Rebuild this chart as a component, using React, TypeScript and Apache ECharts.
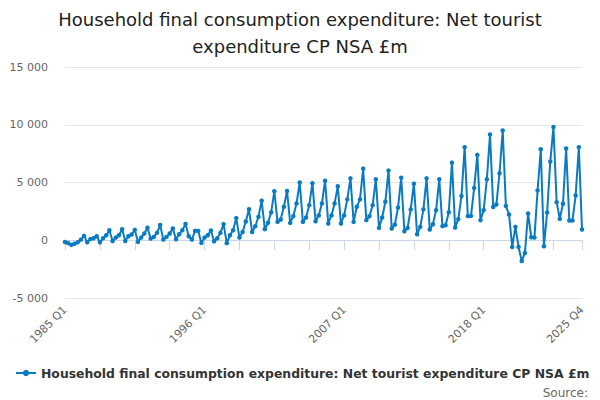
import React, { useEffect, useRef } from "react";
import * as echarts from "echarts";

const startYear = 1985;
const quarterNames = ["Q1", "Q2", "Q3", "Q4"];

// Quarterly values, 1985 Q1 .. 2025 Q4 (£m)
const values1985to1994 = [
  -150, -250, -400, -300,
  -180, 50, 380, -170,
  100, 170, 350, -170,
  170, 430, 870, -60,
  230, 430, 950, -60,
  350, 500, 900, -140,
  230, 580, 1080, 140,
  290, 640, 1320, 60,
  290, 580, 1020, 90,
  520, 870, 1420, 350,
];
const values1995to2004 = [
  60, 810, 810, -230,
  230, 430, 840, -90,
  170, 640, 1400, -250,
  430, 870, 1920, 230,
  720, 1620, 2680, 720,
  1220, 2030, 3430, 960,
  1510, 2410, 4250, 1590,
  1800, 2900, 4270, 1500,
  2090, 3190, 5000, 1590,
  1970, 3040, 4930, 1650,
];
const values2005to2014 = [
  2150, 3190, 5160, 1450,
  2150, 3190, 4670, 1450,
  2150, 3540, 5360, 1590,
  2900, 3540, 6200, 1740,
  2090, 3040, 5280, 1070,
  1970, 3330, 6030, 1010,
  1350, 2840, 5420, 780,
  1070, 2670, 4900, 520,
  1160, 2670, 5360, 930,
  1390, 2610, 5280, 1220,
];
const values2015to2025 = [
  1300, 2430, 6720, 1100,
  1830, 3830, 8060, 2090,
  2110, 4520, 7390, 1740,
  2610, 5280, 9160, 2880,
  3100, 5800, 9500, 2960,
  2230, -580, 1160, -580,
  -1800, -1100, 2320, 260,
  230, 4320, 7880, -520,
  2400, 6810, 9800, 3300,
  1850, 3160, 7940, 1710,
  1710, 3880, 8060, 930,
];

const seriesValues = [
  ...values1985to1994,
  ...values1995to2004,
  ...values2005to2014,
  ...values2015to2025,
];

const categories = seriesValues.map(
  (_, i) => `${startYear + Math.floor(i / 4)} ${quarterNames[i % 4]}`
);

const yTicks = [-5000, 0, 5000, 10000, 15000];

const titleText =
  "Household final consumption expenditure: Net tourist\nexpenditure CP NSA £m";
const seriesName =
  "Household final consumption expenditure: Net tourist expenditure CP NSA £m";

function formatThousands(v: number): string {
  const s = Math.abs(v).toString().replace(/\B(?=(\d{3})+(?!\d))/g, " ");
  return (v < 0 ? "-" : "") + s;
}

export default function App() {
  const ref = useRef<HTMLDivElement>(null);
  useEffect(() => {
    document.body.style.margin = "0";
    if (!ref.current) return;
    const chart = echarts.init(ref.current, undefined, { renderer: "svg" });
    const last = categories.length - 1;
    chart.setOption({
      animation: false,
      textStyle: { fontFamily: "DejaVu Sans" },
      title: {
        text: titleText,
        left: "center",
        top: 1,
        textStyle: {
          fontSize: 18,
          fontWeight: "normal",
          color: "#222222",
          lineHeight: 27,
          fontFamily: "DejaVu Sans",
        },
      },
      grid: { left: 65, right: 18, top: 67, bottom: 102, containLabel: false },
      xAxis: {
        type: "category",
        data: categories,
        boundaryGap: false,
        axisLine: { lineStyle: { color: "#ccd6eb", width: 1 } },
        axisTick: {
          length: 10,
          lineStyle: { color: "#ccd6eb" },
          interval: (i: number) => i % 11 === 0 || i === last,
        },
        axisLabel: {
          rotate: 45,
          margin: 10,
          color: "#666666",
          fontSize: 11,
          hideOverlap: false,
          interval: (i: number) => i % 44 === 0 || i === last,
        },
        splitLine: { show: false },
      },
      yAxis: {
        type: "value",
        min: yTicks[0],
        max: yTicks[yTicks.length - 1],
        interval: 5000,
        axisLine: { show: false },
        axisTick: { show: false },
        axisLabel: {
          color: "#666666",
          fontSize: 11,
          margin: 17,
          formatter: (v: number) => formatThousands(v),
        },
        splitLine: { lineStyle: { color: "#e6e6e6", width: 1 } },
      },
      legend: {
        left: 10,
        bottom: 16,
        itemWidth: 20,
        itemHeight: 8,
        itemGap: 4,
        textStyle: {
          fontSize: 12.4,
          fontWeight: "bold",
          color: "#333333",
          fontFamily: "DejaVu Sans",
        },
      },
      graphic: [
        {
          type: "text",
          right: 12,
          bottom: 1,
          style: {
            text: "Source:",
            fontSize: 12,
            fill: "#666666",
            fontFamily: "DejaVu Sans",
          },
        },
      ],
      series: [
        {
          name: seriesName,
          type: "line",
          data: seriesValues,
          symbol: "circle",
          symbolSize: 4.5,
          showSymbol: true,
          showAllSymbol: true,
          lineStyle: { color: "#0a7bc2", width: 2 },
          itemStyle: { color: "#0a7bc2" },
        },
      ],
    });
    return () => chart.dispose();
  }, []);
  return <div ref={ref} style={{ width: 600, height: 400 }} />;
}
